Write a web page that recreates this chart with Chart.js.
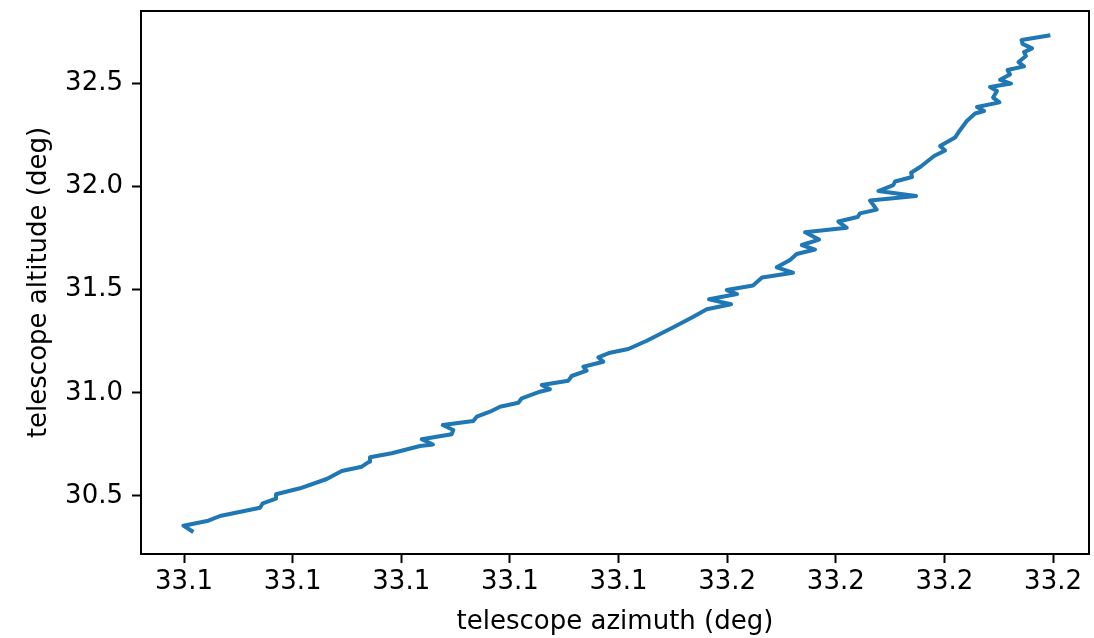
<!DOCTYPE html>
<html>
<head>
<meta charset="utf-8">
<script src="https://cdn.jsdelivr.net/npm/chart.js@4"></script>
<style>
  html, body { margin: 0; padding: 0; background: #fff; }
  canvas { display: block; }
</style>
</head>
<body>
<canvas id="altAzChart" width="1094" height="638"></canvas>
<script>
// telescope pointing track
const azimuth = [
  33.11071, 33.10994, 33.11224, 33.11331, 33.11700, 33.11725, 33.11847, 33.11847,
  33.12068, 33.12314, 33.12452, 33.12636, 33.12706, 33.12712, 33.12912, 33.13173,
  33.13292, 33.13188, 33.13464, 33.13479, 33.13382, 33.13663, 33.13695, 33.13817,
  33.13909, 33.14078, 33.14109, 33.14277, 33.14369, 33.14293, 33.14538, 33.14569,
  33.14707, 33.14676, 33.14860, 33.14814, 33.14922, 33.15090, 33.15260, 33.15505,
  33.15689, 33.15812, 33.16036, 33.15833, 33.16091, 33.15996, 33.16238, 33.16321,
  33.16606, 33.16456, 33.16579, 33.16640, 33.16809, 33.16687, 33.16846, 33.16717,
  33.17101, 33.17024, 33.17200, 33.17223, 33.17377, 33.17315, 33.17739, 33.17392,
  33.17530, 33.17545, 33.17702, 33.17693, 33.17780, 33.17905, 33.18006, 33.17960,
  33.18098, 33.18128, 33.18206, 33.18282, 33.18365, 33.18300, 33.18507, 33.18448,
  33.18484, 33.18420, 33.18613, 33.18512, 33.18604, 33.18581, 33.18733, 33.18682,
  33.18751, 33.18733, 33.18807, 33.18719, 33.18710, 33.18957
];
const altitude = [
  30.3305, 30.3562, 30.3804, 30.4031, 30.4433, 30.4647, 30.4869, 30.5082,
  30.5373, 30.5823, 30.6211, 30.6419, 30.6661, 30.6874, 30.7068, 30.7421,
  30.7494, 30.7746, 30.7988, 30.8196, 30.8438, 30.8632, 30.8840, 30.9082,
  30.9324, 30.9518, 30.9731, 31.0051, 31.0167, 31.0375, 31.0584, 31.0811,
  31.1068, 31.1262, 31.1504, 31.1717, 31.1939, 31.2119, 31.2521, 31.3170,
  31.3683, 31.4041, 31.4283, 31.4525, 31.4782, 31.4976, 31.5194, 31.5581,
  31.5814, 31.6075, 31.6429, 31.6719, 31.6937, 31.7155, 31.7421, 31.7770,
  31.7988, 31.8293, 31.8511, 31.8690, 31.8869, 31.9310, 31.9528, 31.9770,
  32.0061, 32.0230, 32.0448, 32.0656, 32.0947, 32.1465, 32.1731, 32.1949,
  32.2361, 32.2603, 32.3160, 32.3523, 32.3644, 32.3838, 32.4065, 32.4298,
  32.4613, 32.4806, 32.4976, 32.5155, 32.5412, 32.5630, 32.5809, 32.6017,
  32.6308, 32.6501, 32.6680, 32.6898, 32.7082, 32.7300
];

const xTickValues = [33.11, 33.12, 33.13, 33.14, 33.15, 33.16, 33.17, 33.18, 33.19];
const xTickLabels = ["33.1", "33.1", "33.1", "33.1", "33.1", "33.2", "33.2", "33.2", "33.2"];
const yTickValues = [30.5, 31.0, 31.5, 32.0, 32.5];
const yTickLabels = ["30.5", "31.0", "31.5", "32.0", "32.5"];

const FONT = "'DejaVu Sans', sans-serif";
Chart.defaults.color = "#000";
Chart.defaults.font.family = FONT;

// matplotlib style box around the axes
const frameBox = {
  id: "frameBox",
  afterDraw(chart) {
    const { ctx, chartArea } = chart;
    ctx.save();
    ctx.strokeStyle = "#000";
    ctx.lineWidth = 2;
    ctx.strokeRect(chartArea.left, chartArea.top,
      chartArea.right - chartArea.left, chartArea.bottom - chartArea.top);
    ctx.restore();
  }
};

const points = azimuth.map((az, i) => ({ x: az, y: altitude[i] }));

new Chart(document.getElementById("altAzChart"), {
  type: "line",
  data: {
    datasets: [{
      data: points,
      borderColor: "#1f77b4",
      borderWidth: 4,
      borderJoinStyle: "round",
      borderCapStyle: "square",
      pointRadius: 0,
      tension: 0,
      fill: false
    }]
  },
  options: {
    responsive: false,
    animation: false,
    devicePixelRatio: 1,
    layout: { padding: { top: 11, right: 5, left: 0, bottom: 0 } },
    plugins: {
      legend: { display: false },
      tooltip: { enabled: false }
    },
    scales: {
      x: {
        type: "linear",
        min: 33.10604,
        max: 33.19331,
        afterBuildTicks: (scale) => {
          scale.ticks = xTickValues.map(v => ({ value: v }));
        },
        afterFit: (scale) => {
          scale.height = 84;
          scale.paddingLeft = 0;
          scale.paddingRight = 0;
        },
        border: { display: false },
        grid: {
          drawOnChartArea: false,
          drawTicks: true,
          tickLength: 9,
          tickWidth: 2,
          tickColor: "#000"
        },
        ticks: {
          padding: 4,
          maxRotation: 0,
          autoSkip: false,
          font: { size: 26 },
          callback: (value, index) => xTickLabels[index]
        },
        title: {
          display: true,
          text: "telescope azimuth (deg)",
          font: { size: 26 },
          padding: { top: 0, bottom: 0 }
        }
      },
      y: {
        type: "linear",
        min: 30.219,
        max: 32.849,
        afterBuildTicks: (scale) => {
          scale.ticks = yTickValues.map(v => ({ value: v }));
        },
        afterFit: (scale) => {
          scale.width = 141;
          scale.paddingTop = 0;
          scale.paddingBottom = 0;
        },
        border: { display: false },
        grid: {
          drawOnChartArea: false,
          drawTicks: true,
          tickLength: 9,
          tickWidth: 2,
          tickColor: "#000"
        },
        ticks: {
          padding: 9,
          autoSkip: false,
          font: { size: 26 },
          callback: (value, index) => yTickLabels[index]
        },
        title: {
          display: true,
          text: "telescope altitude (deg)",
          font: { size: 26 },
          padding: { top: 24, bottom: 0 }
        }
      }
    }
  },
  plugins: [frameBox]
});
</script>
</body>
</html>
